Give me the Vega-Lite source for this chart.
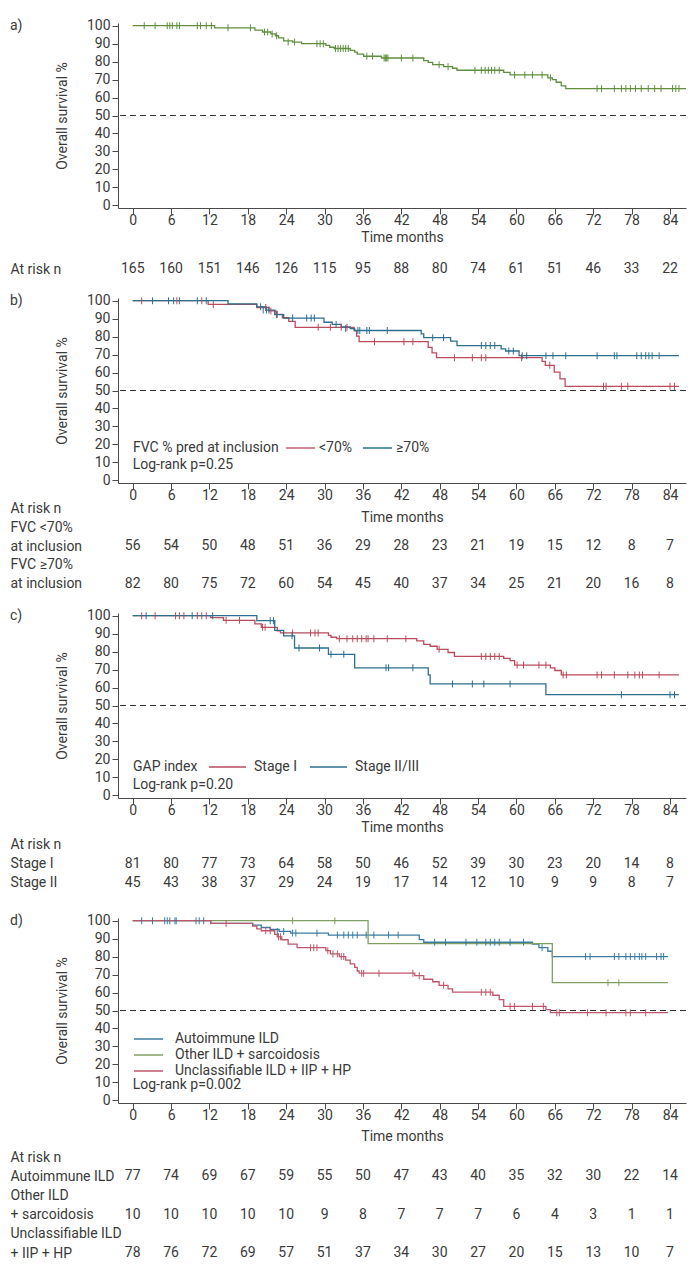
{
"$schema": "https://vega.github.io/schema/vega-lite/v6.json",
"padding": {"left": 10, "top": 18, "right": 5, "bottom": 5},
"spacing": 0,
"bounds": "flush",
"resolve": {"scale": {"x": "independent", "y": "independent", "color": "independent"}, "legend": {"color": "independent"}},
"config": {
 "font": "Roboto",
 "view": {"stroke": null},
 "axis": {"labelFont": "Roboto", "titleFont": "Roboto", "labelFontSize": 14, "titleFontSize": 14, "titleFontWeight": "normal", "labelColor": "#3a3a3a", "titleColor": "#3a3a3a", "domainColor": "#4a4a4a", "tickColor": "#4a4a4a", "grid": false, "labelFlush": false, "labelOverlap": false},
 "legend": {"labelFont": "Roboto", "titleFont": "Roboto", "labelFontSize": 14, "titleFontSize": 14, "titleFontWeight": "normal", "labelColor": "#3a3a3a", "titleColor": "#3a3a3a", "labelLimit": 0, "titleLimit": 0},
 "title": {"font": "Roboto", "fontSize": 14, "fontWeight": "normal", "color": "#3a3a3a", "anchor": "start", "frame": "group", "offset": -14.7, "dx": -108},
 "text": {"font": "Roboto", "fontSize": 14, "color": "#3a3a3a"}
},
"datasets": {
 "a_steps": [{"t":0,"s":100},{"t":12.8,"s":98.8},{"t":19.1,"s":97.5},{"t":20.3,"s":96.5},{"t":21.6,"s":95.4},{"t":22.3,"s":94.4},{"t":22.8,"s":93.2},{"t":23.6,"s":91.6},{"t":25.0,"s":90.9},{"t":26.4,"s":90},{"t":30.2,"s":89},{"t":30.8,"s":88},{"t":31.5,"s":87.3},{"t":34.0,"s":86.3},{"t":34.7,"s":85.3},{"t":35.1,"s":84.2},{"t":36.1,"s":83},{"t":38.9,"s":82},{"t":45.5,"s":80.6},{"t":46.2,"s":79.6},{"t":46.9,"s":78.3},{"t":48.6,"s":77.2},{"t":50.0,"s":76.3},{"t":50.7,"s":75.2},{"t":58.0,"s":74},{"t":59.0,"s":72.6},{"t":64.9,"s":71},{"t":65.6,"s":70},{"t":66.2,"s":68.5},{"t":67.0,"s":66.5},{"t":67.7,"s":65},{"t":86.5,"s":65}],
 "a_cens": [{"t":1.8,"s":100},{"t":3.5,"s":100},{"t":5.4,"s":100},{"t":5.8,"s":100},{"t":6.2,"s":100},{"t":6.9,"s":100},{"t":7.3,"s":100},{"t":10.1,"s":100},{"t":10.6,"s":100},{"t":11.5,"s":100},{"t":12.3,"s":100},{"t":14.9,"s":98.8},{"t":18.4,"s":98.8},{"t":20.6,"s":96.5},{"t":21.1,"s":96.5},{"t":21.8,"s":95.4},{"t":22.5,"s":94.4},{"t":24.3,"s":90.9},{"t":25.3,"s":90.9},{"t":28.8,"s":90},{"t":29.3,"s":90},{"t":29.8,"s":90},{"t":31.7,"s":87.3},{"t":32.1,"s":87.3},{"t":32.5,"s":87.3},{"t":32.9,"s":87.3},{"t":33.3,"s":87.3},{"t":33.7,"s":87.3},{"t":36.6,"s":83},{"t":37.5,"s":83},{"t":39.3,"s":82},{"t":39.5,"s":82},{"t":39.7,"s":82},{"t":39.9,"s":82},{"t":42.0,"s":82},{"t":43.8,"s":82},{"t":47.9,"s":78.3},{"t":49.3,"s":77.2},{"t":53.5,"s":75.2},{"t":54.5,"s":75.2},{"t":55.1,"s":75.2},{"t":55.6,"s":75.2},{"t":56.1,"s":75.2},{"t":56.6,"s":75.2},{"t":57.3,"s":75.2},{"t":59.7,"s":72.6},{"t":61.3,"s":72.6},{"t":62.5,"s":72.6},{"t":64.0,"s":72.6},{"t":65.3,"s":71},{"t":72.6,"s":65},{"t":73.3,"s":65},{"t":75.3,"s":65},{"t":76.4,"s":65},{"t":77.1,"s":65},{"t":77.8,"s":65},{"t":78.6,"s":65},{"t":79.5,"s":65},{"t":80.6,"s":65},{"t":81.6,"s":65},{"t":82.6,"s":65},{"t":84.4,"s":65},{"t":84.9,"s":65},{"t":85.4,"s":65}],
 "b_steps": [{"g":"<70%","t":0,"s":100},{"g":"<70%","t":11.8,"s":97.9},{"g":"<70%","t":19.4,"s":96.2},{"g":"<70%","t":21.3,"s":94.3},{"g":"<70%","t":22.4,"s":92.4},{"g":"<70%","t":23.4,"s":90.5},{"g":"<70%","t":24.4,"s":88.5},{"g":"<70%","t":25.4,"s":85.2},{"g":"<70%","t":34.6,"s":83.3},{"g":"<70%","t":35.0,"s":80.3},{"g":"<70%","t":35.4,"s":77.2},{"g":"<70%","t":46.2,"s":74},{"g":"<70%","t":46.8,"s":71},{"g":"<70%","t":47.5,"s":68.3},{"g":"<70%","t":64.0,"s":66.2},{"g":"<70%","t":64.5,"s":64},{"g":"<70%","t":65.9,"s":60.2},{"g":"<70%","t":66.8,"s":56.5},{"g":"<70%","t":67.6,"s":52.3},{"g":"<70%","t":85.4,"s":52.3},
  {"g":"≥70%","t":0,"s":100},{"g":"≥70%","t":14.9,"s":98.2},{"g":"≥70%","t":19.4,"s":96.6},{"g":"≥70%","t":20.8,"s":94.8},{"g":"≥70%","t":22.2,"s":92.2},{"g":"≥70%","t":23.6,"s":90.3},{"g":"≥70%","t":29.9,"s":88},{"g":"≥70%","t":31.2,"s":86.8},{"g":"≥70%","t":32.6,"s":85.4},{"g":"≥70%","t":34.0,"s":84.5},{"g":"≥70%","t":34.7,"s":83.4},{"g":"≥70%","t":45.1,"s":81.5},{"g":"≥70%","t":45.5,"s":79.4},{"g":"≥70%","t":49.7,"s":77.5},{"g":"≥70%","t":50.7,"s":75},{"g":"≥70%","t":57.6,"s":73.2},{"g":"≥70%","t":58.3,"s":72},{"g":"≥70%","t":60.4,"s":69.4},{"g":"≥70%","t":85.4,"s":69.4}],
 "b_cens": [{"g":"<70%","t":1.4,"s":100},{"g":"<70%","t":6.9,"s":100},{"g":"<70%","t":10.8,"s":100},{"g":"<70%","t":12.6,"s":97.9},{"g":"<70%","t":20.8,"s":96.2},{"g":"<70%","t":21.6,"s":94.3},{"g":"<70%","t":22.6,"s":92.4},{"g":"<70%","t":29.0,"s":85.2},{"g":"<70%","t":30.9,"s":85.2},{"g":"<70%","t":32.6,"s":85.2},{"g":"<70%","t":33.5,"s":85.2},{"g":"<70%","t":37.8,"s":77.2},{"g":"<70%","t":42.4,"s":77.2},{"g":"<70%","t":43.8,"s":77.2},{"g":"<70%","t":50.3,"s":68.3},{"g":"<70%","t":53.1,"s":68.3},{"g":"<70%","t":54.5,"s":68.3},{"g":"<70%","t":55.2,"s":68.3},{"g":"<70%","t":60.8,"s":68.3},{"g":"<70%","t":65.2,"s":64},{"g":"<70%","t":73.6,"s":52.3},{"g":"<70%","t":74.0,"s":52.3},{"g":"<70%","t":76.4,"s":52.3},{"g":"<70%","t":77.4,"s":52.3},{"g":"<70%","t":84.0,"s":52.3},{"g":"<70%","t":84.7,"s":52.3},
  {"g":"≥70%","t":3.1,"s":100},{"g":"≥70%","t":5.6,"s":100},{"g":"≥70%","t":6.4,"s":100},{"g":"≥70%","t":7.3,"s":100},{"g":"≥70%","t":10.1,"s":100},{"g":"≥70%","t":11.5,"s":100},{"g":"≥70%","t":20.0,"s":96.6},{"g":"≥70%","t":20.4,"s":94.8},{"g":"≥70%","t":20.9,"s":94.8},{"g":"≥70%","t":21.3,"s":94.8},{"g":"≥70%","t":22.5,"s":92.2},{"g":"≥70%","t":25.0,"s":90.3},{"g":"≥70%","t":27.2,"s":90.3},{"g":"≥70%","t":27.9,"s":90.3},{"g":"≥70%","t":28.4,"s":90.3},{"g":"≥70%","t":31.8,"s":86.8},{"g":"≥70%","t":33.3,"s":84.5},{"g":"≥70%","t":35.2,"s":83.4},{"g":"≥70%","t":35.5,"s":83.4},{"g":"≥70%","t":36.6,"s":83.4},{"g":"≥70%","t":37.0,"s":83.4},{"g":"≥70%","t":39.8,"s":83.4},{"g":"≥70%","t":46.9,"s":79.4},{"g":"≥70%","t":48.6,"s":79.4},{"g":"≥70%","t":54.5,"s":75},{"g":"≥70%","t":55.2,"s":75},{"g":"≥70%","t":55.9,"s":75},{"g":"≥70%","t":56.6,"s":75},{"g":"≥70%","t":58.8,"s":72},{"g":"≥70%","t":59.5,"s":72},{"g":"≥70%","t":60.9,"s":69.4},{"g":"≥70%","t":61.6,"s":69.4},{"g":"≥70%","t":64.6,"s":69.4},{"g":"≥70%","t":65.7,"s":69.4},{"g":"≥70%","t":67.7,"s":69.4},{"g":"≥70%","t":72.6,"s":69.4},{"g":"≥70%","t":75.3,"s":69.4},{"g":"≥70%","t":75.7,"s":69.4},{"g":"≥70%","t":78.8,"s":69.4},{"g":"≥70%","t":79.5,"s":69.4},{"g":"≥70%","t":80.2,"s":69.4},{"g":"≥70%","t":80.7,"s":69.4},{"g":"≥70%","t":81.2,"s":69.4},{"g":"≥70%","t":82.3,"s":69.4}],
 "c_steps": [{"g":"Stage I","t":0,"s":100},{"g":"Stage I","t":12.2,"s":98.9},{"g":"Stage I","t":14.2,"s":97.4},{"g":"Stage I","t":19.1,"s":95.5},{"g":"Stage I","t":20.1,"s":93.5},{"g":"Stage I","t":22.6,"s":91.5},{"g":"Stage I","t":23.1,"s":90.4},{"g":"Stage I","t":30.6,"s":89},{"g":"Stage I","t":31.0,"s":88},{"g":"Stage I","t":31.9,"s":87.2},{"g":"Stage I","t":44.4,"s":86},{"g":"Stage I","t":45.5,"s":84},{"g":"Stage I","t":46.5,"s":83},{"g":"Stage I","t":47.6,"s":81.3},{"g":"Stage I","t":49.3,"s":79.5},{"g":"Stage I","t":50.3,"s":77.3},{"g":"Stage I","t":58.0,"s":76.2},{"g":"Stage I","t":59.0,"s":75},{"g":"Stage I","t":59.7,"s":72.5},{"g":"Stage I","t":65.3,"s":71},{"g":"Stage I","t":66.0,"s":69.5},{"g":"Stage I","t":67.0,"s":67},{"g":"Stage I","t":85.4,"s":67},
  {"g":"Stage II/III","t":0,"s":100},{"g":"Stage II/III","t":19.4,"s":97.2},{"g":"Stage II/III","t":22.2,"s":91.8},{"g":"Stage II/III","t":23.6,"s":88.8},{"g":"Stage II/III","t":25.3,"s":82},{"g":"Stage II/III","t":30.6,"s":78.5},{"g":"Stage II/III","t":34.7,"s":71},{"g":"Stage II/III","t":46.2,"s":67},{"g":"Stage II/III","t":46.5,"s":62},{"g":"Stage II/III","t":64.6,"s":56},{"g":"Stage II/III","t":85.4,"s":56}],
 "c_cens": [{"g":"Stage I","t":1.4,"s":100},{"g":"Stage I","t":3.5,"s":100},{"g":"Stage I","t":6.7,"s":100},{"g":"Stage I","t":7.3,"s":100},{"g":"Stage I","t":8.0,"s":100},{"g":"Stage I","t":10.1,"s":100},{"g":"Stage I","t":10.8,"s":100},{"g":"Stage I","t":11.5,"s":100},{"g":"Stage I","t":14.6,"s":97.4},{"g":"Stage I","t":16.7,"s":97.4},{"g":"Stage I","t":20.3,"s":93.5},{"g":"Stage I","t":20.7,"s":93.5},{"g":"Stage I","t":25.0,"s":90.4},{"g":"Stage I","t":27.8,"s":90.4},{"g":"Stage I","t":28.5,"s":90.4},{"g":"Stage I","t":29.0,"s":90.4},{"g":"Stage I","t":32.3,"s":87.2},{"g":"Stage I","t":33.5,"s":87.2},{"g":"Stage I","t":34.4,"s":87.2},{"g":"Stage I","t":35.1,"s":87.2},{"g":"Stage I","t":35.8,"s":87.2},{"g":"Stage I","t":36.5,"s":87.2},{"g":"Stage I","t":36.8,"s":87.2},{"g":"Stage I","t":37.7,"s":87.2},{"g":"Stage I","t":39.8,"s":87.2},{"g":"Stage I","t":42.7,"s":87.2},{"g":"Stage I","t":47.9,"s":81.3},{"g":"Stage I","t":54.5,"s":77.3},{"g":"Stage I","t":55.2,"s":77.3},{"g":"Stage I","t":55.9,"s":77.3},{"g":"Stage I","t":56.6,"s":77.3},{"g":"Stage I","t":57.3,"s":77.3},{"g":"Stage I","t":60.1,"s":72.5},{"g":"Stage I","t":61.1,"s":72.5},{"g":"Stage I","t":63.5,"s":72.5},{"g":"Stage I","t":64.6,"s":72.5},{"g":"Stage I","t":67.3,"s":67},{"g":"Stage I","t":67.8,"s":67},{"g":"Stage I","t":72.6,"s":67},{"g":"Stage I","t":73.3,"s":67},{"g":"Stage I","t":75.3,"s":67},{"g":"Stage I","t":77.4,"s":67},{"g":"Stage I","t":78.5,"s":67},{"g":"Stage I","t":79.2,"s":67},{"g":"Stage I","t":79.7,"s":67},{"g":"Stage I","t":82.3,"s":67},
  {"g":"Stage II/III","t":2.1,"s":100},{"g":"Stage II/III","t":9.3,"s":100},{"g":"Stage II/III","t":12.5,"s":100},{"g":"Stage II/III","t":21.5,"s":97.2},{"g":"Stage II/III","t":22.0,"s":97.2},{"g":"Stage II/III","t":24.9,"s":88.8},{"g":"Stage II/III","t":26.0,"s":82},{"g":"Stage II/III","t":29.2,"s":82},{"g":"Stage II/III","t":31.0,"s":78.5},{"g":"Stage II/III","t":33.0,"s":78.5},{"g":"Stage II/III","t":39.6,"s":71},{"g":"Stage II/III","t":40.0,"s":71},{"g":"Stage II/III","t":43.8,"s":71},{"g":"Stage II/III","t":50.0,"s":62},{"g":"Stage II/III","t":53.1,"s":62},{"g":"Stage II/III","t":54.9,"s":62},{"g":"Stage II/III","t":59.0,"s":62},{"g":"Stage II/III","t":76.4,"s":56},{"g":"Stage II/III","t":84.0,"s":56},{"g":"Stage II/III","t":84.7,"s":56}],
 "d_steps": [{"g":"Autoimmune ILD","t":0,"s":100},{"g":"Autoimmune ILD","t":12.2,"s":98.5},{"g":"Autoimmune ILD","t":18.75,"s":97.5},{"g":"Autoimmune ILD","t":20.1,"s":96.2},{"g":"Autoimmune ILD","t":21.5,"s":95.1},{"g":"Autoimmune ILD","t":22.9,"s":94},{"g":"Autoimmune ILD","t":24.7,"s":93.1},{"g":"Autoimmune ILD","t":30.6,"s":92},{"g":"Autoimmune ILD","t":44.8,"s":89.5},{"g":"Autoimmune ILD","t":45.5,"s":88},{"g":"Autoimmune ILD","t":62.5,"s":87},{"g":"Autoimmune ILD","t":63.5,"s":85},{"g":"Autoimmune ILD","t":64.9,"s":83},{"g":"Autoimmune ILD","t":65.6,"s":80},{"g":"Autoimmune ILD","t":83.7,"s":80},
  {"g":"Other ILD + sarcoidosis","t":0,"s":100},{"g":"Other ILD + sarcoidosis","t":36.8,"s":87.2},{"g":"Other ILD + sarcoidosis","t":65.6,"s":65.5},{"g":"Other ILD + sarcoidosis","t":83.7,"s":65.5},
  {"g":"Unclassifiable ILD + IIP + HP","t":0,"s":100},{"g":"Unclassifiable ILD + IIP + HP","t":12.2,"s":98.5},{"g":"Unclassifiable ILD + IIP + HP","t":18.75,"s":97},{"g":"Unclassifiable ILD + IIP + HP","t":19.4,"s":95.5},{"g":"Unclassifiable ILD + IIP + HP","t":20.1,"s":94.4},{"g":"Unclassifiable ILD + IIP + HP","t":22.2,"s":92.4},{"g":"Unclassifiable ILD + IIP + HP","t":22.6,"s":91},{"g":"Unclassifiable ILD + IIP + HP","t":23.3,"s":89.4},{"g":"Unclassifiable ILD + IIP + HP","t":24.3,"s":87},{"g":"Unclassifiable ILD + IIP + HP","t":25.7,"s":85},{"g":"Unclassifiable ILD + IIP + HP","t":30.2,"s":83.3},{"g":"Unclassifiable ILD + IIP + HP","t":30.9,"s":81.5},{"g":"Unclassifiable ILD + IIP + HP","t":32.3,"s":80},{"g":"Unclassifiable ILD + IIP + HP","t":33.3,"s":78},{"g":"Unclassifiable ILD + IIP + HP","t":34.0,"s":76},{"g":"Unclassifiable ILD + IIP + HP","t":34.7,"s":74},{"g":"Unclassifiable ILD + IIP + HP","t":35.1,"s":72},{"g":"Unclassifiable ILD + IIP + HP","t":35.4,"s":70.8},{"g":"Unclassifiable ILD + IIP + HP","t":44.1,"s":69.4},{"g":"Unclassifiable ILD + IIP + HP","t":45.5,"s":67.4},{"g":"Unclassifiable ILD + IIP + HP","t":46.9,"s":66},{"g":"Unclassifiable ILD + IIP + HP","t":47.9,"s":64},{"g":"Unclassifiable ILD + IIP + HP","t":49.3,"s":62},{"g":"Unclassifiable ILD + IIP + HP","t":50.0,"s":60.2},{"g":"Unclassifiable ILD + IIP + HP","t":56.3,"s":58.5},{"g":"Unclassifiable ILD + IIP + HP","t":57.3,"s":56},{"g":"Unclassifiable ILD + IIP + HP","t":58.0,"s":52.3},{"g":"Unclassifiable ILD + IIP + HP","t":64.6,"s":50.5},{"g":"Unclassifiable ILD + IIP + HP","t":65.3,"s":48.8},{"g":"Unclassifiable ILD + IIP + HP","t":83.7,"s":48.8}],
 "d_cens": [{"g":"Autoimmune ILD","t":1.4,"s":100},{"g":"Autoimmune ILD","t":3.1,"s":100},{"g":"Autoimmune ILD","t":5.0,"s":100},{"g":"Autoimmune ILD","t":5.4,"s":100},{"g":"Autoimmune ILD","t":5.8,"s":100},{"g":"Autoimmune ILD","t":6.6,"s":100},{"g":"Autoimmune ILD","t":6.8,"s":100},{"g":"Autoimmune ILD","t":9.9,"s":100},{"g":"Autoimmune ILD","t":10.4,"s":100},{"g":"Autoimmune ILD","t":11.1,"s":100},{"g":"Autoimmune ILD","t":22.6,"s":94},{"g":"Autoimmune ILD","t":23.6,"s":94},{"g":"Autoimmune ILD","t":25.0,"s":93.1},{"g":"Autoimmune ILD","t":25.5,"s":93.1},{"g":"Autoimmune ILD","t":28.8,"s":93.1},{"g":"Autoimmune ILD","t":32.0,"s":92},{"g":"Autoimmune ILD","t":33.0,"s":92},{"g":"Autoimmune ILD","t":33.7,"s":92},{"g":"Autoimmune ILD","t":34.4,"s":92},{"g":"Autoimmune ILD","t":35.1,"s":92},{"g":"Autoimmune ILD","t":36.5,"s":92},{"g":"Autoimmune ILD","t":37.7,"s":92},{"g":"Autoimmune ILD","t":40.0,"s":92},{"g":"Autoimmune ILD","t":41.5,"s":92},{"g":"Autoimmune ILD","t":47.2,"s":88},{"g":"Autoimmune ILD","t":48.9,"s":88},{"g":"Autoimmune ILD","t":52.1,"s":88},{"g":"Autoimmune ILD","t":53.8,"s":88},{"g":"Autoimmune ILD","t":55.2,"s":88},{"g":"Autoimmune ILD","t":55.9,"s":88},{"g":"Autoimmune ILD","t":56.6,"s":88},{"g":"Autoimmune ILD","t":57.3,"s":88},{"g":"Autoimmune ILD","t":59.0,"s":88},{"g":"Autoimmune ILD","t":61.1,"s":88},{"g":"Autoimmune ILD","t":64.0,"s":85},{"g":"Autoimmune ILD","t":70.8,"s":80},{"g":"Autoimmune ILD","t":71.5,"s":80},{"g":"Autoimmune ILD","t":75.3,"s":80},{"g":"Autoimmune ILD","t":76.0,"s":80},{"g":"Autoimmune ILD","t":77.1,"s":80},{"g":"Autoimmune ILD","t":77.8,"s":80},{"g":"Autoimmune ILD","t":78.5,"s":80},{"g":"Autoimmune ILD","t":79.2,"s":80},{"g":"Autoimmune ILD","t":79.6,"s":80},{"g":"Autoimmune ILD","t":80.2,"s":80},{"g":"Autoimmune ILD","t":81.9,"s":80},{"g":"Autoimmune ILD","t":82.6,"s":80},{"g":"Autoimmune ILD","t":83.0,"s":80},
  {"g":"Other ILD + sarcoidosis","t":25.0,"s":100},{"g":"Other ILD + sarcoidosis","t":31.6,"s":100},{"g":"Other ILD + sarcoidosis","t":74.3,"s":65.5},{"g":"Other ILD + sarcoidosis","t":76.0,"s":65.5},
  {"g":"Unclassifiable ILD + IIP + HP","t":14.6,"s":98.5},{"g":"Unclassifiable ILD + IIP + HP","t":20.8,"s":94.4},{"g":"Unclassifiable ILD + IIP + HP","t":21.5,"s":94.4},{"g":"Unclassifiable ILD + IIP + HP","t":22.8,"s":91},{"g":"Unclassifiable ILD + IIP + HP","t":23.1,"s":91},{"g":"Unclassifiable ILD + IIP + HP","t":27.8,"s":85},{"g":"Unclassifiable ILD + IIP + HP","t":28.3,"s":85},{"g":"Unclassifiable ILD + IIP + HP","t":28.8,"s":85},{"g":"Unclassifiable ILD + IIP + HP","t":30.5,"s":83.3},{"g":"Unclassifiable ILD + IIP + HP","t":31.3,"s":81.5},{"g":"Unclassifiable ILD + IIP + HP","t":32.0,"s":81.5},{"g":"Unclassifiable ILD + IIP + HP","t":32.6,"s":80},{"g":"Unclassifiable ILD + IIP + HP","t":33.0,"s":80},{"g":"Unclassifiable ILD + IIP + HP","t":35.8,"s":70.8},{"g":"Unclassifiable ILD + IIP + HP","t":36.1,"s":70.8},{"g":"Unclassifiable ILD + IIP + HP","t":38.5,"s":70.8},{"g":"Unclassifiable ILD + IIP + HP","t":43.8,"s":70.8},{"g":"Unclassifiable ILD + IIP + HP","t":44.8,"s":69.4},{"g":"Unclassifiable ILD + IIP + HP","t":48.6,"s":64},{"g":"Unclassifiable ILD + IIP + HP","t":54.5,"s":60.2},{"g":"Unclassifiable ILD + IIP + HP","t":55.2,"s":60.2},{"g":"Unclassifiable ILD + IIP + HP","t":55.9,"s":60.2},{"g":"Unclassifiable ILD + IIP + HP","t":59.0,"s":52.3},{"g":"Unclassifiable ILD + IIP + HP","t":59.7,"s":52.3},{"g":"Unclassifiable ILD + IIP + HP","t":62.5,"s":52.3},{"g":"Unclassifiable ILD + IIP + HP","t":64.2,"s":52.3},{"g":"Unclassifiable ILD + IIP + HP","t":66.3,"s":48.8},{"g":"Unclassifiable ILD + IIP + HP","t":66.7,"s":48.8},{"g":"Unclassifiable ILD + IIP + HP","t":71.1,"s":48.8},{"g":"Unclassifiable ILD + IIP + HP","t":74.0,"s":48.8},{"g":"Unclassifiable ILD + IIP + HP","t":77.1,"s":48.8},{"g":"Unclassifiable ILD + IIP + HP","t":77.8,"s":48.8},{"g":"Unclassifiable ILD + IIP + HP","t":80.2,"s":48.8}],
 "a_risk": [{"i":0,"t":0,"n":165},{"i":0,"t":6,"n":160},{"i":0,"t":12,"n":151},{"i":0,"t":18,"n":146},{"i":0,"t":24,"n":126},{"i":0,"t":30,"n":115},{"i":0,"t":36,"n":95},{"i":0,"t":42,"n":88},{"i":0,"t":48,"n":80},{"i":0,"t":54,"n":74},{"i":0,"t":60,"n":61},{"i":0,"t":66,"n":51},{"i":0,"t":72,"n":46},{"i":0,"t":78,"n":33},{"i":0,"t":84,"n":22}],
 "b_risk": [{"i":2,"t":0,"n":56},{"i":2,"t":6,"n":54},{"i":2,"t":12,"n":50},{"i":2,"t":18,"n":48},{"i":2,"t":24,"n":51},{"i":2,"t":30,"n":36},{"i":2,"t":36,"n":29},{"i":2,"t":42,"n":28},{"i":2,"t":48,"n":23},{"i":2,"t":54,"n":21},{"i":2,"t":60,"n":19},{"i":2,"t":66,"n":15},{"i":2,"t":72,"n":12},{"i":2,"t":78,"n":8},{"i":2,"t":84,"n":7},
  {"i":4,"t":0,"n":82},{"i":4,"t":6,"n":80},{"i":4,"t":12,"n":75},{"i":4,"t":18,"n":72},{"i":4,"t":24,"n":60},{"i":4,"t":30,"n":54},{"i":4,"t":36,"n":45},{"i":4,"t":42,"n":40},{"i":4,"t":48,"n":37},{"i":4,"t":54,"n":34},{"i":4,"t":60,"n":25},{"i":4,"t":66,"n":21},{"i":4,"t":72,"n":20},{"i":4,"t":78,"n":16},{"i":4,"t":84,"n":8}],
 "c_risk": [{"i":1,"t":0,"n":81},{"i":1,"t":6,"n":80},{"i":1,"t":12,"n":77},{"i":1,"t":18,"n":73},{"i":1,"t":24,"n":64},{"i":1,"t":30,"n":58},{"i":1,"t":36,"n":50},{"i":1,"t":42,"n":46},{"i":1,"t":48,"n":52},{"i":1,"t":54,"n":39},{"i":1,"t":60,"n":30},{"i":1,"t":66,"n":23},{"i":1,"t":72,"n":20},{"i":1,"t":78,"n":14},{"i":1,"t":84,"n":8},
  {"i":2,"t":0,"n":45},{"i":2,"t":6,"n":43},{"i":2,"t":12,"n":38},{"i":2,"t":18,"n":37},{"i":2,"t":24,"n":29},{"i":2,"t":30,"n":24},{"i":2,"t":36,"n":19},{"i":2,"t":42,"n":17},{"i":2,"t":48,"n":14},{"i":2,"t":54,"n":12},{"i":2,"t":60,"n":10},{"i":2,"t":66,"n":9},{"i":2,"t":72,"n":9},{"i":2,"t":78,"n":8},{"i":2,"t":84,"n":7}],
 "d_risk": [{"i":1,"t":0,"n":77},{"i":1,"t":6,"n":74},{"i":1,"t":12,"n":69},{"i":1,"t":18,"n":67},{"i":1,"t":24,"n":59},{"i":1,"t":30,"n":55},{"i":1,"t":36,"n":50},{"i":1,"t":42,"n":47},{"i":1,"t":48,"n":43},{"i":1,"t":54,"n":40},{"i":1,"t":60,"n":35},{"i":1,"t":66,"n":32},{"i":1,"t":72,"n":30},{"i":1,"t":78,"n":22},{"i":1,"t":84,"n":14},
  {"i":3,"t":0,"n":10},{"i":3,"t":6,"n":10},{"i":3,"t":12,"n":10},{"i":3,"t":18,"n":10},{"i":3,"t":24,"n":10},{"i":3,"t":30,"n":9},{"i":3,"t":36,"n":8},{"i":3,"t":42,"n":7},{"i":3,"t":48,"n":7},{"i":3,"t":54,"n":7},{"i":3,"t":60,"n":6},{"i":3,"t":66,"n":4},{"i":3,"t":72,"n":3},{"i":3,"t":78,"n":1},{"i":3,"t":84,"n":1},
  {"i":5,"t":0,"n":78},{"i":5,"t":6,"n":76},{"i":5,"t":12,"n":72},{"i":5,"t":18,"n":69},{"i":5,"t":24,"n":57},{"i":5,"t":30,"n":51},{"i":5,"t":36,"n":37},{"i":5,"t":42,"n":34},{"i":5,"t":48,"n":30},{"i":5,"t":54,"n":27},{"i":5,"t":60,"n":20},{"i":5,"t":66,"n":15},{"i":5,"t":72,"n":13},{"i":5,"t":78,"n":10},{"i":5,"t":84,"n":7}]
},
"vconcat": [
 {"width": 568, "height": 185,
  "title": {"text": "a)"},
  "layer": [
   {"data": {"values": [{}]}, "mark": {"type": "rule", "color": "#333333", "strokeDash": [6, 4], "strokeWidth": 1},
    "encoding": {"y": {"datum": 50, "type": "quantitative", "scale": {"domain": [-1.5, 101.5], "nice": false, "zero": false}, "title": "Overall survival %", "axis": {"values": [0,10,20,30,40,50,60,70,80,90,100], "tickSize": 6, "labelPadding": 2, "titlePadding": 17}}}},
   {"data": {"name": "a_steps"}, "mark": {"type": "line", "interpolate": "step-after", "strokeWidth": 1.3, "color": "#5f8f3e"},
    "encoding": {
     "x": {"field": "t", "type": "quantitative", "scale": {"domain": [-2.3, 86.5], "nice": false, "zero": false}, "title": "Time months", "axis": {"values": [0,6,12,18,24,30,36,42,48,54,60,66,72,78,84], "tickSize": 6, "labelPadding": -1, "titlePadding": 3}},
     "y": {"field": "s", "type": "quantitative", "scale": {"domain": [-1.5, 101.5], "nice": false, "zero": false}, "title": "Overall survival %", "axis": {"values": [0,10,20,30,40,50,60,70,80,90,100], "tickSize": 6, "labelPadding": 2, "titlePadding": 17}}}},
   {"data": {"name": "a_cens"}, "mark": {"type": "tick", "orient": "vertical", "size": 7, "thickness": 1, "opacity": 1, "color": "#5f8f3e"},
    "encoding": {
     "x": {"field": "t", "type": "quantitative", "scale": {"domain": [-2.3, 86.5], "nice": false, "zero": false}, "title": "Time months", "axis": {"values": [0,6,12,18,24,30,36,42,48,54,60,66,72,78,84], "tickSize": 6, "labelPadding": -1, "titlePadding": 3}},
     "y": {"field": "s", "type": "quantitative", "scale": {"domain": [-1.5, 101.5], "nice": false, "zero": false}, "title": "Overall survival %", "axis": {"values": [0,10,20,30,40,50,60,70,80,90,100], "tickSize": 6, "labelPadding": 2, "titlePadding": 17}}}}
  ]},
 {"width": 568, "height": 89.7, "data": {"name": "a_risk"},
  "mark": {"type": "text", "fontSize": 14, "color": "#3a3a3a", "align": "center", "baseline": "middle"},
  "encoding": {
   "x": {"field": "t", "type": "quantitative", "scale": {"domain": [-2.3, 86.5], "nice": false, "zero": false}, "axis": null},
   "y": {"field": "i", "type": "quantitative", "scale": {"domain": [-3.232, 1.489], "reverse": true, "nice": false, "zero": false},
    "axis": {"values": [0], "title": null, "domain": false, "ticks": false, "tickSize": 0, "labelAlign": "left", "labelBaseline": "middle", "labelPadding": 108, "labelLimit": 0, "labelExpr": "'At risk n'"}},
   "text": {"field": "n", "type": "quantitative"}}},
 {"width": 568, "height": 185,
  "title": {"text": "b)"},
  "layer": [
   {"data": {"values": [{}]}, "mark": {"type": "rule", "color": "#333333", "strokeDash": [6, 4], "strokeWidth": 1},
    "encoding": {"y": {"datum": 50, "type": "quantitative", "scale": {"domain": [-1.5, 101.5], "nice": false, "zero": false}, "title": "Overall survival %", "axis": {"values": [0,10,20,30,40,50,60,70,80,90,100], "tickSize": 6, "labelPadding": 2, "titlePadding": 17}}}},
   {"data": {"name": "b_steps"}, "mark": {"type": "line", "interpolate": "step-after", "strokeWidth": 1.3},
    "encoding": {
     "x": {"field": "t", "type": "quantitative", "scale": {"domain": [-2.3, 86.5], "nice": false, "zero": false}, "title": "Time months", "axis": {"values": [0,6,12,18,24,30,36,42,48,54,60,66,72,78,84], "tickSize": 6, "labelPadding": -1, "titlePadding": 8}},
     "y": {"field": "s", "type": "quantitative", "scale": {"domain": [-1.5, 101.5], "nice": false, "zero": false}, "title": "Overall survival %", "axis": {"values": [0,10,20,30,40,50,60,70,80,90,100], "tickSize": 6, "labelPadding": 2, "titlePadding": 17}},
     "color": {"field": "g", "type": "nominal", "scale": {"domain": ["<70%", "≥70%"], "range": ["#b94b5c", "#2d6f8f"]},
      "legend": {"orient": "none", "legendX": 15, "legendY": 142, "direction": "horizontal", "title": "FVC % pred at inclusion", "titleOrient": "left", "titlePadding": 6, "symbolType": "stroke", "symbolSize": 841, "symbolStrokeWidth": 1.3, "clipHeight": 16, "labelOffset": 3, "columnPadding": 9}}}},
   {"data": {"name": "b_cens"}, "mark": {"type": "tick", "orient": "vertical", "size": 7, "thickness": 1, "opacity": 1},
    "encoding": {
     "x": {"field": "t", "type": "quantitative", "scale": {"domain": [-2.3, 86.5], "nice": false, "zero": false}, "title": "Time months", "axis": {"values": [0,6,12,18,24,30,36,42,48,54,60,66,72,78,84], "tickSize": 6, "labelPadding": -1, "titlePadding": 8}},
     "y": {"field": "s", "type": "quantitative", "scale": {"domain": [-1.5, 101.5], "nice": false, "zero": false}, "title": "Overall survival %", "axis": {"values": [0,10,20,30,40,50,60,70,80,90,100], "tickSize": 6, "labelPadding": 2, "titlePadding": 17}},
     "color": {"field": "g", "type": "nominal", "scale": {"domain": ["<70%", "≥70%"], "range": ["#b94b5c", "#2d6f8f"]}}}},
   {"data": {"values": [{}]}, "mark": {"type": "text", "align": "left", "baseline": "middle", "fontSize": 14, "color": "#3a3a3a"},
    "encoding": {"x": {"datum": 0, "type": "quantitative", "scale": {"domain": [-2.3, 86.5], "nice": false, "zero": false}, "title": "Time months", "axis": {"values": [0,6,12,18,24,30,36,42,48,54,60,66,72,78,84], "tickSize": 6, "labelPadding": -1, "titlePadding": 8}},
     "y": {"datum": 8.8, "type": "quantitative", "scale": {"domain": [-1.5, 101.5], "nice": false, "zero": false}, "title": "Overall survival %", "axis": {"values": [0,10,20,30,40,50,60,70,80,90,100], "tickSize": 6, "labelPadding": 2, "titlePadding": 17}},
     "text": {"value": "Log-rank p=0.25"}}}
  ]},
 {"width": 568, "height": 129.5, "data": {"name": "b_risk"},
  "mark": {"type": "text", "fontSize": 14, "color": "#3a3a3a", "align": "center", "baseline": "middle"},
  "encoding": {
   "x": {"field": "t", "type": "quantitative", "scale": {"domain": [-2.3, 86.5], "nice": false, "zero": false}, "axis": null},
   "y": {"field": "i", "type": "quantitative", "scale": {"domain": [-1.371, 5.536], "reverse": true, "nice": false, "zero": false},
    "axis": {"values": [0, 1, 2, 3, 4], "title": null, "domain": false, "ticks": false, "tickSize": 0, "labelAlign": "left", "labelBaseline": "middle", "labelPadding": 108, "labelLimit": 0, "labelExpr": "['At risk n', 'FVC <70%', 'at inclusion', 'FVC ≥70%', 'at inclusion'][datum.value]"}},
   "text": {"field": "n", "type": "quantitative"}}},
 {"width": 568, "height": 185,
  "title": {"text": "c)"},
  "layer": [
   {"data": {"values": [{}]}, "mark": {"type": "rule", "color": "#333333", "strokeDash": [6, 4], "strokeWidth": 1},
    "encoding": {"y": {"datum": 50, "type": "quantitative", "scale": {"domain": [-1.5, 101.5], "nice": false, "zero": false}, "title": "Overall survival %", "axis": {"values": [0,10,20,30,40,50,60,70,80,90,100], "tickSize": 6, "labelPadding": 2, "titlePadding": 17}}}},
   {"data": {"name": "c_steps"}, "mark": {"type": "line", "interpolate": "step-after", "strokeWidth": 1.3},
    "encoding": {
     "x": {"field": "t", "type": "quantitative", "scale": {"domain": [-2.3, 86.5], "nice": false, "zero": false}, "title": "Time months", "axis": {"values": [0,6,12,18,24,30,36,42,48,54,60,66,72,78,84], "tickSize": 6, "labelPadding": -1, "titlePadding": 3}},
     "y": {"field": "s", "type": "quantitative", "scale": {"domain": [-1.5, 101.5], "nice": false, "zero": false}, "title": "Overall survival %", "axis": {"values": [0,10,20,30,40,50,60,70,80,90,100], "tickSize": 6, "labelPadding": 2, "titlePadding": 17}},
     "color": {"field": "g", "type": "nominal", "scale": {"domain": ["Stage I", "Stage II/III"], "range": ["#b94b5c", "#2d6f8f"]},
      "legend": {"orient": "none", "legendX": 15, "legendY": 146, "direction": "horizontal", "title": "GAP index", "titleOrient": "left", "titlePadding": 10, "symbolType": "stroke", "symbolSize": 1369, "symbolStrokeWidth": 1.3, "clipHeight": 16, "labelOffset": 7, "columnPadding": 11}}}},
   {"data": {"name": "c_cens"}, "mark": {"type": "tick", "orient": "vertical", "size": 7, "thickness": 1, "opacity": 1},
    "encoding": {
     "x": {"field": "t", "type": "quantitative", "scale": {"domain": [-2.3, 86.5], "nice": false, "zero": false}, "title": "Time months", "axis": {"values": [0,6,12,18,24,30,36,42,48,54,60,66,72,78,84], "tickSize": 6, "labelPadding": -1, "titlePadding": 3}},
     "y": {"field": "s", "type": "quantitative", "scale": {"domain": [-1.5, 101.5], "nice": false, "zero": false}, "title": "Overall survival %", "axis": {"values": [0,10,20,30,40,50,60,70,80,90,100], "tickSize": 6, "labelPadding": 2, "titlePadding": 17}},
     "color": {"field": "g", "type": "nominal", "scale": {"domain": ["Stage I", "Stage II/III"], "range": ["#b94b5c", "#2d6f8f"]}}}},
   {"data": {"values": [{}]}, "mark": {"type": "text", "align": "left", "baseline": "middle", "fontSize": 14, "color": "#3a3a3a"},
    "encoding": {"x": {"datum": 0, "type": "quantitative", "scale": {"domain": [-2.3, 86.5], "nice": false, "zero": false}, "title": "Time months", "axis": {"values": [0,6,12,18,24,30,36,42,48,54,60,66,72,78,84], "tickSize": 6, "labelPadding": -1, "titlePadding": 3}},
     "y": {"datum": 5.8, "type": "quantitative", "scale": {"domain": [-1.5, 101.5], "nice": false, "zero": false}, "title": "Overall survival %", "axis": {"values": [0,10,20,30,40,50,60,70,80,90,100], "tickSize": 6, "labelPadding": 2, "titlePadding": 17}},
     "text": {"value": "Log-rank p=0.20"}}}
  ]},
 {"width": 568, "height": 120, "data": {"name": "c_risk"},
  "mark": {"type": "text", "fontSize": 14, "color": "#3a3a3a", "align": "center", "baseline": "middle"},
  "encoding": {
   "x": {"field": "t", "type": "quantitative", "scale": {"domain": [-2.3, 86.5], "nice": false, "zero": false}, "axis": null},
   "y": {"field": "i", "type": "quantitative", "scale": {"domain": [-2.394, 3.824], "reverse": true, "nice": false, "zero": false},
    "axis": {"values": [0, 1, 2], "title": null, "domain": false, "ticks": false, "tickSize": 0, "labelAlign": "left", "labelBaseline": "middle", "labelPadding": 108, "labelLimit": 0, "labelExpr": "['At risk n', 'Stage I', 'Stage II'][datum.value]"}},
   "text": {"field": "n", "type": "quantitative"}}},
 {"width": 568, "height": 185,
  "title": {"text": "d)"},
  "layer": [
   {"data": {"values": [{}]}, "mark": {"type": "rule", "color": "#333333", "strokeDash": [6, 4], "strokeWidth": 1},
    "encoding": {"y": {"datum": 50, "type": "quantitative", "scale": {"domain": [-1.5, 101.5], "nice": false, "zero": false}, "title": "Overall survival %", "axis": {"values": [0,10,20,30,40,50,60,70,80,90,100], "tickSize": 6, "labelPadding": 2, "titlePadding": 17}}}},
   {"data": {"name": "d_steps"}, "mark": {"type": "line", "interpolate": "step-after", "strokeWidth": 1.3},
    "encoding": {
     "x": {"field": "t", "type": "quantitative", "scale": {"domain": [-2.3, 86.5], "nice": false, "zero": false}, "title": "Time months", "axis": {"values": [0,6,12,18,24,30,36,42,48,54,60,66,72,78,84], "tickSize": 6, "labelPadding": -1, "titlePadding": 7}},
     "y": {"field": "s", "type": "quantitative", "scale": {"domain": [-1.5, 101.5], "nice": false, "zero": false}, "title": "Overall survival %", "axis": {"values": [0,10,20,30,40,50,60,70,80,90,100], "tickSize": 6, "labelPadding": 2, "titlePadding": 17}},
     "color": {"field": "g", "type": "nominal", "scale": {"domain": ["Autoimmune ILD", "Other ILD + sarcoidosis", "Unclassifiable ILD + IIP + HP"], "range": ["#3b7ca3", "#7f9f62", "#c0566b"]},
      "legend": {"orient": "none", "legendX": 15, "legendY": 113, "direction": "vertical", "title": null, "symbolType": "stroke", "symbolSize": 841, "symbolStrokeWidth": 1.3, "clipHeight": 16, "rowPadding": 0, "labelOffset": 11}}}},
   {"data": {"name": "d_cens"}, "mark": {"type": "tick", "orient": "vertical", "size": 7, "thickness": 1, "opacity": 1},
    "encoding": {
     "x": {"field": "t", "type": "quantitative", "scale": {"domain": [-2.3, 86.5], "nice": false, "zero": false}, "title": "Time months", "axis": {"values": [0,6,12,18,24,30,36,42,48,54,60,66,72,78,84], "tickSize": 6, "labelPadding": -1, "titlePadding": 7}},
     "y": {"field": "s", "type": "quantitative", "scale": {"domain": [-1.5, 101.5], "nice": false, "zero": false}, "title": "Overall survival %", "axis": {"values": [0,10,20,30,40,50,60,70,80,90,100], "tickSize": 6, "labelPadding": 2, "titlePadding": 17}},
     "color": {"field": "g", "type": "nominal", "scale": {"domain": ["Autoimmune ILD", "Other ILD + sarcoidosis", "Unclassifiable ILD + IIP + HP"], "range": ["#3b7ca3", "#7f9f62", "#c0566b"]}}}},
   {"data": {"values": [{}]}, "mark": {"type": "text", "align": "left", "baseline": "middle", "fontSize": 14, "color": "#3a3a3a"},
    "encoding": {"x": {"datum": 0, "type": "quantitative", "scale": {"domain": [-2.3, 86.5], "nice": false, "zero": false}, "title": "Time months", "axis": {"values": [0,6,12,18,24,30,36,42,48,54,60,66,72,78,84], "tickSize": 6, "labelPadding": -1, "titlePadding": 7}},
     "y": {"datum": 8.6, "type": "quantitative", "scale": {"domain": [-1.5, 101.5], "nice": false, "zero": false}, "title": "Overall survival %", "axis": {"values": [0,10,20,30,40,50,60,70,80,90,100], "tickSize": 6, "labelPadding": 2, "titlePadding": 17}},
     "text": {"value": "Log-rank p=0.002"}}}
  ]},
 {"width": 568, "height": 169.2, "data": {"name": "d_risk"},
  "mark": {"type": "text", "fontSize": 14, "color": "#3a3a3a", "align": "center", "baseline": "middle"},
  "encoding": {
   "x": {"field": "t", "type": "quantitative", "scale": {"domain": [-2.3, 86.5], "nice": false, "zero": false}, "axis": null},
   "y": {"field": "i", "type": "quantitative", "scale": {"domain": [-2.823, 5.990], "reverse": true, "nice": false, "zero": false},
    "axis": {"values": [0, 1, 2, 3, 4, 5], "title": null, "domain": false, "ticks": false, "tickSize": 0, "labelAlign": "left", "labelBaseline": "middle", "labelPadding": 108, "labelLimit": 0, "labelExpr": "['At risk n', 'Autoimmune ILD', 'Other ILD', '+ sarcoidosis', 'Unclassifiable ILD', '+ IIP + HP'][datum.value]"}},
   "text": {"field": "n", "type": "quantitative"}}}
]
}
